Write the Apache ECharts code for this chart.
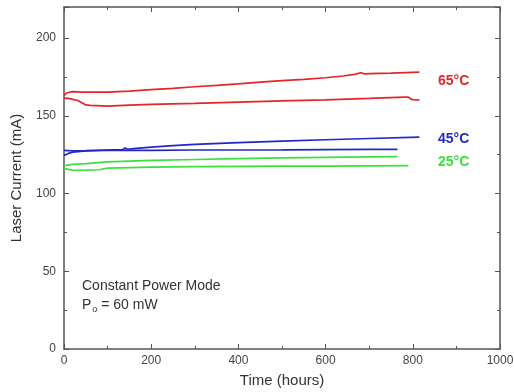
<!DOCTYPE html>
<html><head><meta charset="utf-8">
<script src="https://cdn.jsdelivr.net/npm/echarts@6/dist/echarts.min.js"></script>
<style>html,body{margin:0;padding:0;background:#fff}#c{width:514px;height:392px}</style>
</head><body><div id="c"></div>
<script>
const xTicks = [0, 200, 400, 600, 800, 1000];
const yTicks = [0, 50, 100, 150, 200];

const red1T = [0, 5, 10, 20, 40, 60, 100, 150, 200, 250, 300, 350, 400, 450, 500, 550, 600, 640, 670, 680, 690, 700, 750, 800, 815];
const red1V = [163, 164.5, 165, 165.6, 165.2, 165.3, 165.3, 165.9, 166.8, 167.6, 168.7, 169.6, 170.6, 171.7, 172.6, 173.4, 174.5, 175.6, 176.8, 177.7, 177.0, 177.2, 177.5, 178, 178.1];
const red2T = [0, 10, 20, 30, 40, 50, 60, 100, 150, 200, 300, 400, 500, 600, 700, 780, 790, 795, 800, 815];
const red2V = [161.4, 161.2, 160.6, 160.0, 158.5, 157.0, 156.7, 156.2, 156.9, 157.3, 158.0, 158.8, 159.6, 160.3, 161.2, 162, 162, 161.0, 160.4, 160.3];
const blue1T = [0, 10, 20, 50, 100, 135, 140, 145, 160, 200, 250, 300, 400, 500, 600, 700, 815];
const blue1V = [124.5, 125.8, 126.6, 127.4, 128.0, 128.3, 129.3, 128.5, 128.9, 129.9, 130.8, 131.6, 132.7, 133.7, 134.6, 135.4, 136.3];
const blue2T = [0, 20, 50, 100, 200, 300, 400, 500, 600, 700, 765];
const blue2V = [127.8, 127.5, 127.6, 127.8, 127.8, 128.0, 128.0, 128.1, 128.3, 128.4, 128.4];
const green1T = [0, 20, 50, 100, 200, 300, 400, 500, 600, 700, 765];
const green1V = [118, 118.8, 119.3, 120.4, 121.3, 121.9, 122.4, 122.9, 123.3, 123.6, 123.7];
const green2T = [0, 10, 20, 50, 80, 100, 200, 300, 400, 500, 600, 700, 790];
const green2V = [116, 115.6, 115.0, 115.1, 115.3, 116.3, 117.0, 117.3, 117.5, 117.6, 117.7, 117.8, 117.9];

const RED = '#e3262a', BLUE = '#2228c4', GREEN = '#3ce03c';
const pair = (t, v) => t.map((x, i) => [x, v[i]]);
const line = (t, v, c) => ({type: 'line', data: pair(t, v), symbol: 'none', smooth: false,
  lineStyle: {color: c, width: 1.7}, itemStyle: {color: c}, animation: false});

const axisCol = '#555';
const tickFont = {color: '#444', fontSize: 12, fontFamily: 'Liberation Sans, Arial, sans-serif'};
const chart = echarts.init(document.getElementById('c'), null, {renderer: 'canvas'});
chart.setOption({
  animation: false,
  grid: {left: 64, right: 14, top: 7, bottom: 43, outerBoundsMode: 'none', containLabel: false},
  xAxis: [{
    type: 'value', min: 0, max: 1000, interval: 200, position: 'bottom',
    name: 'Time (hours)', nameLocation: 'middle', nameGap: 24,
    nameTextStyle: {color: '#333', fontSize: 15, fontFamily: 'Liberation Sans, Arial, sans-serif'},
    axisLine: {show: true, lineStyle: {color: axisCol, width: 1.5}},
    axisTick: {show: true, inside: true, length: 5, lineStyle: {color: axisCol}},
    minorTick: {show: true, splitNumber: 2, length: 3, lineStyle: {color: axisCol}},
    axisLabel: Object.assign({margin: 6, formatter: v => xTicks.includes(v) ? String(v) : ''}, tickFont),
    splitLine: {show: false}
  }, {
    type: 'value', min: 0, max: 1000, interval: 200, position: 'top',
    axisLine: {show: true, onZero: false, lineStyle: {color: axisCol, width: 1.5}},
    axisTick: {show: true, inside: true, length: 5, lineStyle: {color: axisCol}},
    minorTick: {show: true, splitNumber: 2, length: 3, lineStyle: {color: axisCol}},
    axisLabel: {show: false}, splitLine: {show: false}
  }],
  yAxis: [{
    type: 'value', min: 0, max: 220, interval: 50, position: 'left',
    name: 'Laser Current (mA)', nameLocation: 'middle', nameGap: 40,
    nameTextStyle: {color: '#333', fontSize: 15, fontFamily: 'Liberation Sans, Arial, sans-serif'},
    axisLine: {show: true, lineStyle: {color: axisCol, width: 1.5}},
    axisTick: {show: true, inside: true, length: 5, lineStyle: {color: axisCol}},
    minorTick: {show: true, splitNumber: 2, length: 3, lineStyle: {color: axisCol}},
    axisLabel: Object.assign({margin: 8, showMaxLabel: false, formatter: v => yTicks.includes(v) ? String(v) : ''}, tickFont),
    splitLine: {show: false}
  }, {
    type: 'value', min: 0, max: 220, interval: 50, position: 'right',
    axisLine: {show: true, onZero: false, lineStyle: {color: axisCol, width: 1.5}},
    axisTick: {show: true, inside: true, length: 5, lineStyle: {color: axisCol}},
    minorTick: {show: true, splitNumber: 2, length: 3, lineStyle: {color: axisCol}},
    axisLabel: {show: false}, splitLine: {show: false}
  }],
  series: [
    line(red1T, red1V, RED), line(red2T, red2V, RED),
    line(blue1T, blue1V, BLUE), line(blue2T, blue2V, BLUE),
    line(green1T, green1V, GREEN), line(green2T, green2V, GREEN)
  ],
  graphic: [
    {type: 'text', left: 438, top: 74, style: {text: '65°C', fill: RED, font: 'bold 14px Liberation Sans, Arial, sans-serif'}},
    {type: 'text', left: 438, top: 132, style: {text: '45°C', fill: BLUE, font: 'bold 14px Liberation Sans, Arial, sans-serif'}},
    {type: 'text', left: 438, top: 155, style: {text: '25°C', fill: GREEN, font: 'bold 14px Liberation Sans, Arial, sans-serif'}},
    {type: 'text', left: 82, top: 279, style: {text: 'Constant Power Mode', fill: '#333', font: '14px Liberation Sans, Arial, sans-serif'}},
    {type: 'text', left: 82, top: 298, style: {
      text: '{p|P}{s|o}{p| = 60 mW}',
      rich: {p: {fill: '#333', font: '14px Liberation Sans, Arial, sans-serif', fontSize: 14},
             s: {fill: '#333', fontSize: 9, fontFamily: 'Liberation Sans, Arial, sans-serif', padding: [10, 0, 0, 1]}}
    }}
  ]
});
</script></body></html>
